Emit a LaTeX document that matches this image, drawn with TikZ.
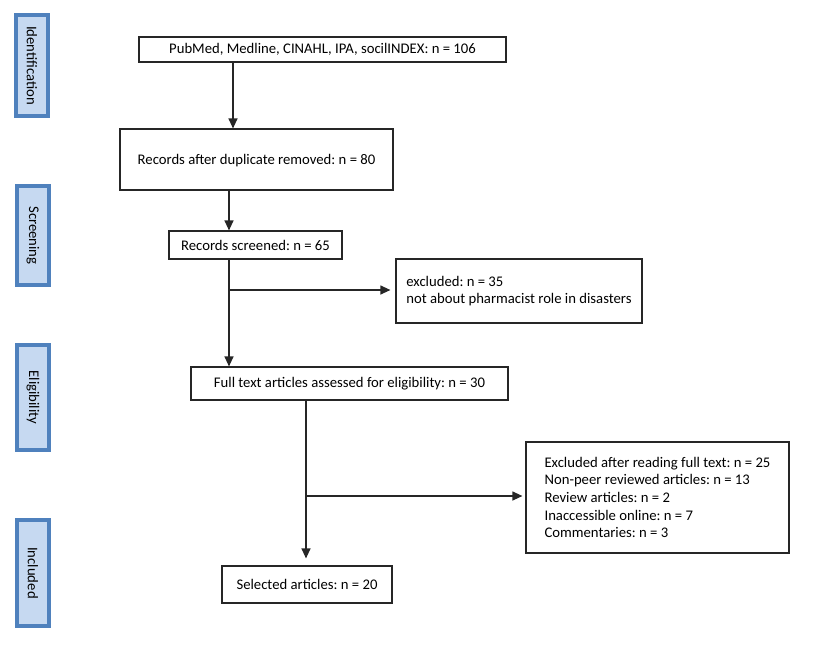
\documentclass[tikz,border=0pt]{standalone}
\usepackage{fontspec}
\setmainfont{Carlito}
\usetikzlibrary{arrows.meta}
\definecolor{phaseborder}{HTML}{4F81BD}
\definecolor{phasefill}{HTML}{C6D9F1}
\frenchspacing
\begin{document}
\begin{tikzpicture}[x=1pt,y=-1pt,
  every node/.style={font=\fontsize{14.7}{17.7}\selectfont},
  phase/.style={draw=phaseborder,fill=phasefill,line width=4pt,minimum width=32pt,inner sep=0pt},
  phasetext/.style={rotate=-90,text=black},
  flowbox/.style={draw=black!85,line width=1.2pt,inner sep=0pt,fill=white},
  listbox/.style={flowbox,align=left},
  arr/.style={draw=black!85,line width=1.2pt,-{Triangle[length=10pt,width=9pt]}},
  plain/.style={draw=black!85,line width=1.2pt}]
\useasboundingbox (0,0) rectangle (820,646);
% phase boxes
\node[phase,minimum height=101pt] (ph1) at (32,65.5) {};
\node[phasetext] (ph1t) at (ph1.center) {Identification};
\node[phase,minimum height=99pt] (ph2) at (33,235.5) {};
\node[phasetext] (ph2t) at (ph2.center) {Screening};
\node[phase,minimum height=105pt] (ph3) at (33,397.5) {};
\node[phasetext] (ph3t) at (ph3.center) {Eligibility};
\node[phase,minimum height=106pt] (ph4) at (33,573) {};
\node[phasetext] (ph4t) at (ph4.center) {Included};
% flow boxes
\node[flowbox,minimum width=367pt,minimum height=25pt] (b1) at (322.5,49.5) {PubMed, Medline, CINAHL, IPA, socilINDEX: n = 106};
\node[flowbox,minimum width=273pt,minimum height=61pt,text depth=-4pt] (b2) at (256.5,159.5) {Records after duplicate removed: n = 80};
\node[flowbox,minimum width=173pt,minimum height=28pt] (b3) at (255.5,245) {Records screened: n = 65};
\node[listbox,minimum width=246pt,minimum height=64pt] (e1) at (519,291) {excluded: n = 35\\not about pharmacist role in disasters};
\node[flowbox,minimum width=317pt,minimum height=33pt] (b4) at (349.5,383.5) {Full text articles assessed for eligibility: n = 30};
\node[listbox,minimum width=263pt,minimum height=111pt] (e2) at (657.5,497.5) {Excluded after reading full text: n = 25\\Non-peer reviewed articles: n = 13\\Review articles: n = 2\\Inaccessible online: n = 7\\Commentaries: n = 3};
\node[flowbox,minimum width=170pt,minimum height=37pt] (b5) at (307,584.5) {Selected articles: n = 20};
% connector x positions
\coordinate (xa) at (233,0);
\coordinate (xb) at (229,0);
\coordinate (xc) at (306,0);
\coordinate (j1) at (229,290);
\coordinate (j2) at (306,496);
% connectors
\draw[arr] (b1.south -| xa) -- (b2.north -| xa);
\draw[arr] (b2.south -| xb) -- (b3.north -| xb);
\draw[arr] (b3.south -| xb) -- (b4.north -| xb);
\draw[arr,shorten >=5pt] (j1) -- (e1.west |- j1);
\draw[arr,shorten >=7pt] (b4.south -| xc) -- (b5.north -| xc);
\draw[arr,shorten >=3pt] (j2) -- (e2.west |- j2);
\end{tikzpicture}
\end{document}
